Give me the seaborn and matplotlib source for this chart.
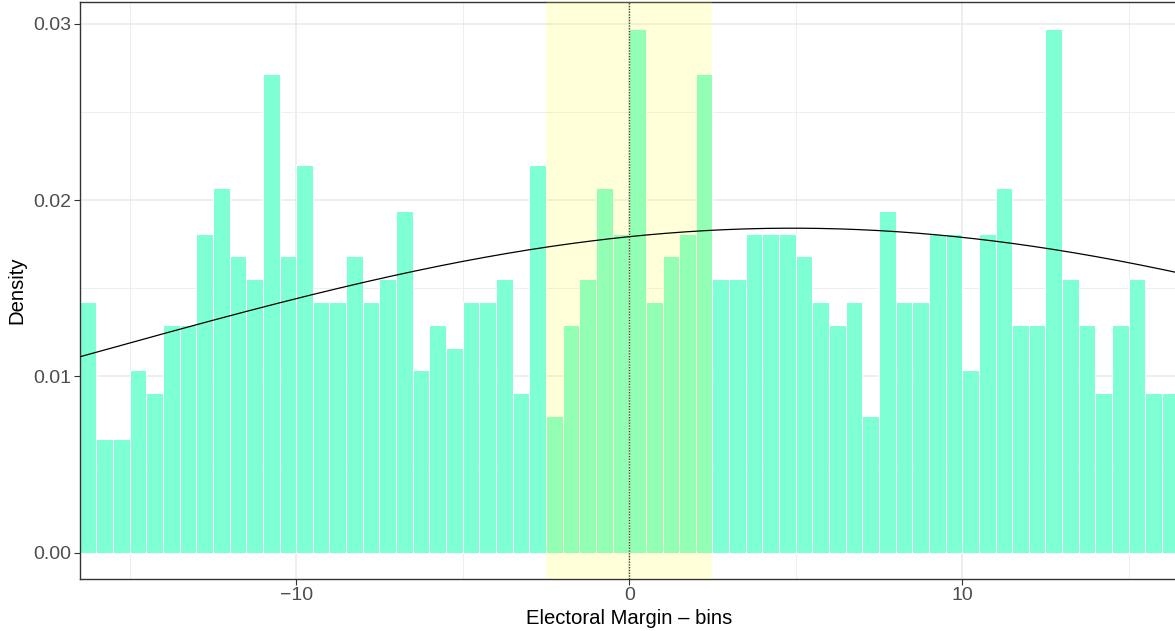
import numpy as np
import pandas as pd
import matplotlib
matplotlib.use("Agg")
import matplotlib.pyplot as plt
import seaborn as sns
from matplotlib.ticker import MultipleLocator

# Histogram of electoral margins, bins of 0.5 points from -16.5 to 16.5
bin_width = 0.5
bin_start = -16.5
bin_counts = [
    11, 5, 5, 8, 7, 10, 10, 14, 16, 13, 12, 21, 13, 17, 11, 11, 13, 11,
    12, 15, 8, 10, 9, 11, 11, 12, 7, 17, 6, 10, 12, 16, 14, 23, 11, 13,
    14, 21, 12, 12, 14, 14, 14, 13, 11, 10, 11, 6, 15, 11, 11, 14, 14, 8,
    14, 16, 10, 10, 23, 12, 10, 7, 10, 12, 7, 7,
]
n_total = 1547

# Fitted normal curve
curve_mean = 4.9
curve_sd = 21.3
curve_peak = 0.01841

# Close-race window around zero
window_low, window_high = -2.5, 2.5

x_ticks = [-10, 0, 10]
x_tick_labels = ["\u221210", "0", "10"]
y_ticks = [0.00, 0.01, 0.02, 0.03]
y_tick_labels = ["0.00", "0.01", "0.02", "0.03"]

edges = bin_start + bin_width * np.arange(len(bin_counts) + 1)
centers = (edges[:-1] + edges[1:]) / 2
density = np.array(bin_counts) / (n_total * bin_width)
hist_df = pd.DataFrame({"margin": centers, "density": density})

xs = np.linspace(edges[0], edges[-1], 400)
curve_df = pd.DataFrame({
    "margin": xs,
    "density": curve_peak * np.exp(-((xs - curve_mean) ** 2) / (2 * curve_sd ** 2)),
})

sns.set_theme(style="white")
plt.rcParams["font.family"] = ["Liberation Sans", "DejaVu Sans"]

fig = plt.figure(figsize=(11.75, 6.31), dpi=100)
ax = fig.add_axes([79.7 / 1175, 52 / 631, 1099 / 1175, 576.7 / 631])

sns.histplot(
    data=hist_df, x="margin", weights="density", bins=[float(e) for e in edges],
    color="#7FFFD4", alpha=1, edgecolor="white", linewidth=0.7, ax=ax, zorder=2,
)
ax.axvspan(window_low, window_high, color="yellow", alpha=0.15, linewidth=0, zorder=3)
sns.lineplot(data=curve_df, x="margin", y="density", color="black", linewidth=0.9,
             ax=ax, zorder=4)
ax.axvline(0, color="#444444", linestyle=(0, (1, 1)), linewidth=1.0, zorder=5)

ymax = density.max()
ax.set_xlim(edges[0], edges[-1])
ax.set_ylim(-0.05 * ymax, 1.05 * ymax)

ax.set_xticks(x_ticks)
ax.set_xticklabels(x_tick_labels)
ax.set_yticks(y_ticks)
ax.set_yticklabels(y_tick_labels)
ax.xaxis.set_minor_locator(MultipleLocator(5))
ax.yaxis.set_minor_locator(MultipleLocator(0.005))

ax.grid(which="major", color="#EBEBEB", linewidth=1.2, zorder=0)
ax.grid(which="minor", color="#EEEEEE", linewidth=0.7, zorder=0)
ax.set_axisbelow(True)

ax.tick_params(axis="both", which="major", length=4, width=0.8, color="#333333",
               labelsize=14, labelcolor="#4D4D4D", pad=2, direction="out",
               bottom=True, left=True)
ax.tick_params(axis="both", which="minor", length=0)

for spine in ax.spines.values():
    spine.set_color("#333333")
    spine.set_linewidth(1.0)
    spine.set_visible(True)

ax.set_xlabel("Electoral Margin \u2013 bins", fontsize=14.6, color="black", labelpad=3)
ax.set_ylabel("Density", fontsize=14.6, color="black", labelpad=5)

fig.savefig("out.png", dpi=100)
